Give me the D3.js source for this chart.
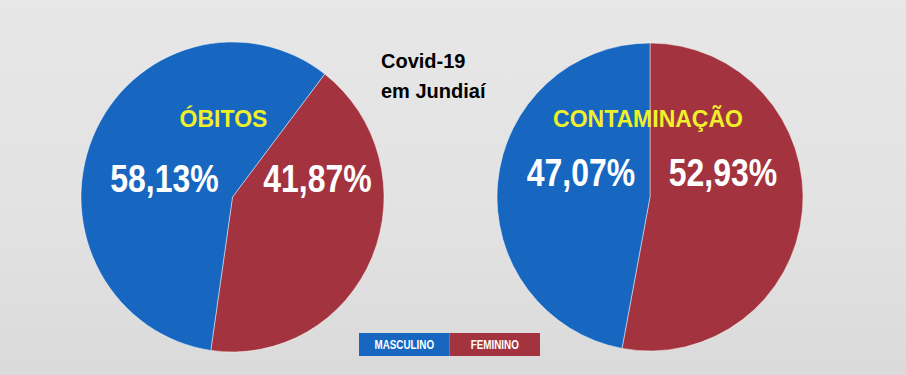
<!DOCTYPE html>
<html>
<head>
<meta charset="utf-8">
<script src="https://cdn.jsdelivr.net/npm/d3@7"></script>
<style>
  body { margin: 0; background: #e5e5e5; }
  svg { display: block; }
</style>
</head>
<body>
<svg id="chart" width="906" height="375"></svg>
<script>
// Chart data
var categories = ['MASCULINO', 'FEMININO'];
var obitosValues = [58.13, 41.87];
var contaminacaoValues = [47.07, 52.93];
var pieTitles = ['ÓBITOS', 'CONTAMINAÇÃO'];
var titleLines = ['Covid-19', 'em Jundiaí'];

var COLOR_BLUE = '#1767c1';
var COLOR_RED = '#a3343f';
var SANS = "'Liberation Sans', Arial, sans-serif";
// no narrow face installed, so squeeze the regular bold one
var NARROW_SCALE = 0.82;

var svg = d3.select('#chart');

var colorScale = d3.scaleOrdinal()
    .domain(categories)
    .range([COLOR_BLUE, COLOR_RED]);

// background, slightly darker toward the bottom
var defs = svg.append('defs');
var grad = defs.append('linearGradient')
    .attr('id', 'bg')
    .attr('x1', 0).attr('y1', 0).attr('x2', 0).attr('y2', 1);
grad.append('stop').attr('offset', '0%').attr('stop-color', '#e7e7e7');
grad.append('stop').attr('offset', '60%').attr('stop-color', '#e2e2e2');
grad.append('stop').attr('offset', '100%').attr('stop-color', '#dadada');

svg.append('rect')
    .attr('width', 906)
    .attr('height', 375)
    .attr('fill', 'url(#bg)');

var fmt = function (v) {
  return d3.format('.2f')(v).replace('.', ',') + '%';
};

// text squeezed horizontally around its own x
function narrowText(sel, x, y) {
  sel.attr('x', 0).attr('y', 0)
    .attr('transform', function (d, i) {
      return 'translate(' + x(d, i) + ',' + y(d, i) + ') scale(' + NARROW_SCALE + ',1)';
    });
}

/**
 * Draws one (slightly stretched) pie.
 * order: which category goes first clockwise, rotation: start angle in degrees
 */
function drawPie(values, opts) {
  var R = 100;
  var data = categories.map(function (c, i) {
    return { cat: c, value: values[i] };
  });
  var ordered = opts.order.map(function (i) { return data[i]; });

  var pie = d3.pie()
      .sort(null)
      .value(function (d) { return d.value; })
      .startAngle(opts.rotation * Math.PI / 180)
      .endAngle(opts.rotation * Math.PI / 180 + 2 * Math.PI);

  var arc = d3.arc().innerRadius(0).outerRadius(R);

  var g = svg.append('g')
      .attr('transform', 'translate(' + opts.cx + ',' + opts.cy + ') scale(' + (opts.rx / R) + ',' + (opts.ry / R) + ')');

  g.selectAll('path')
    .data(pie(ordered))
    .enter()
    .append('path')
    .attr('d', arc)
    .attr('fill', function (d) { return colorScale(d.data.cat); })
    .attr('stroke', 'rgba(255,255,255,0.45)')
    .attr('stroke-width', 1)
    .attr('vector-effect', 'non-scaling-stroke');

  // title inside the pie
  svg.append('text')
    .attr('x', opts.cx + opts.titleDx)
    .attr('y', opts.cy - 70)
    .attr('text-anchor', 'middle')
    .attr('font-family', SANS)
    .attr('font-weight', 'bold')
    .attr('font-size', 23)
    .attr('fill', '#f0f02a')
    .text(opts.title);

  // percentage labels
  svg.selectAll(null)
    .data(data)
    .enter()
    .append('text')
    .attr('text-anchor', 'middle')
    .attr('font-family', SANS)
    .attr('font-weight', 'bold')
    .attr('font-size', 39)
    .attr('fill', '#ffffff')
    .text(function (d) { return fmt(d.value); })
    .call(narrowText,
      function (d, i) { return opts.cx + opts.labelDx[i]; },
      function () { return opts.cy + opts.labelDy; });
}

drawPie(obitosValues, {
  cx: 232.5, cy: 197, rx: 151.5, ry: 155,
  order: [1, 0], rotation: 37.5,
  title: pieTitles[0], titleDx: -9,
  labelDx: [-68, 85], labelDy: -5
});

drawPie(contaminacaoValues, {
  cx: 650, cy: 197, rx: 153, ry: 154,
  order: [1, 0], rotation: 0,
  title: pieTitles[1], titleDx: -2,
  labelDx: [-69, 73], labelDy: -11
});

// centre title
svg.selectAll('.headline')
  .data(titleLines)
  .enter()
  .append('text')
  .attr('class', 'headline')
  .attr('x', 381)
  .attr('y', function (d, i) { return 68 + i * 30; })
  .attr('font-family', SANS)
  .attr('font-weight', 'bold')
  .attr('font-size', 20)
  .attr('fill', '#000')
  .text(function (d) { return d; });

// legend
var legendX = d3.scaleBand()
    .domain(categories)
    .range([359, 540]);

var legend = svg.append('g').attr('transform', 'translate(0,333)');

legend.selectAll('rect')
  .data(categories)
  .enter()
  .append('rect')
  .attr('x', function (d) { return legendX(d); })
  .attr('y', 0)
  .attr('width', legendX.bandwidth())
  .attr('height', 23)
  .attr('fill', function (d) { return colorScale(d); });

legend.selectAll('text')
  .data(categories)
  .enter()
  .append('text')
  .attr('text-anchor', 'middle')
  .attr('font-family', SANS)
  .attr('font-weight', 'bold')
  .attr('font-size', 12)
  .attr('fill', '#fff')
  .text(function (d) { return d; })
  .call(narrowText,
    function (d) { return legendX(d) + legendX.bandwidth() / 2; },
    function () { return 16; });
</script>
</body>
</html>
